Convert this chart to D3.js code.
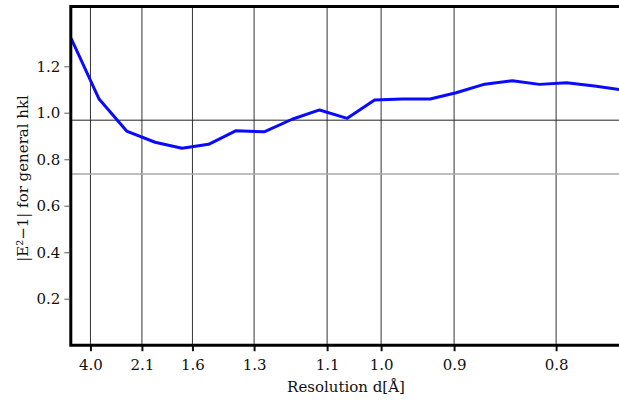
<!DOCTYPE html>
<html>
<head>
<meta charset="utf-8">
<script src="https://cdn.jsdelivr.net/npm/d3@7"></script>
<style>
  body { margin: 0; background: #fff; }
  svg text { font-family: "DejaVu Serif", serif; font-size: 15px; fill: #111; }
</style>
</head>
<body>
<div id="chart"></div>
<script>
// data
// x is 1/d^2 (the axis is linear in that), y is |E^2-1|
const invD2 = [0.0035, 0.0935, 0.182, 0.2735, 0.36, 0.4455, 0.534, 0.624, 0.714, 0.802,
  0.891, 0.979, 1.0675, 1.1575, 1.241, 1.333, 1.422, 1.509, 1.596, 1.686, 1.774];
const eValues = [1.320, 1.059, 0.921, 0.873, 0.847, 0.864, 0.923, 0.918, 0.972, 1.012,
  0.976, 1.055, 1.059, 1.059, 1.086, 1.123, 1.138, 1.122, 1.129, 1.115, 1.098];

// resolution ticks (d in Å) and what they are labelled with
const tickD = [3.9, 2.08, 1.594, 1.3, 1.1, 1.0, 0.9, 0.8];
const tickLabels = ["4.0", "2.1", "1.6", "1.3", "1.1", "1.0", "0.9", "0.8"];
const yTicks = [0.2, 0.4, 0.6, 0.8, 1.0, 1.2];

// expected values: centric / acentric
const refLines = [0.968, 0.736];
const refColors = ["#222", "#aaa"];
const refWidths = [1, 1.5];

const width = 619,
  height = 402;

const svg = d3.select("#chart")
  .append("svg")
  .attr("width", width)
  .attr("height", height);

const x = d3.scaleLinear().domain([0, 1.8]).range([70, 630]);
const y = d3.scaleLinear().domain([0, 1.457]).range([345.2, 6.5]);

const plotLeft = 70.8, plotTop = 6.5, plotBottom = 345.2;

svg.append("clipPath")
  .attr("id", "clip")
  .append("rect")
  .attr("x", plotLeft)
  .attr("y", plotTop)
  .attr("width", width - plotLeft)
  .attr("height", plotBottom - plotTop);

// vertical grid lines at the resolution ticks
svg.append("g")
  .selectAll("line")
  .data(tickD)
  .join("line")
  .attr("x1", d => x(1 / (d * d)))
  .attr("x2", d => x(1 / (d * d)))
  .attr("y1", plotTop)
  .attr("y2", plotBottom)
  .style("stroke", "#333")
  .style("stroke-width", 1);

// the two horizontal reference lines
svg.append("g")
  .selectAll("line")
  .data(refLines)
  .join("line")
  .attr("x1", plotLeft)
  .attr("x2", width)
  .attr("y1", d => y(d))
  .attr("y2", d => y(d))
  .style("stroke", (d, i) => refColors[i])
  .style("stroke-width", (d, i) => refWidths[i]);

// the curve
const line = d3.line()
  .x((d, i) => x(invD2[i]))
  .y(d => y(d));

svg.append("path")
  .datum(eValues)
  .attr("clip-path", "url(#clip)")
  .attr("d", line)
  .style("fill", "none")
  .style("stroke", "#0a0aff")
  .style("stroke-width", 3)
  .style("stroke-linejoin", "round");

// y axis
const yAxis = d3.axisLeft(y)
  .tickValues(yTicks)
  .tickFormat(d3.format(".1f"))
  .tickSize(5)
  .tickPadding(4);

const gy = svg.append("g")
  .attr("transform", `translate(${plotLeft - 1.5},0)`)
  .call(yAxis);
gy.select(".domain").remove();
gy.selectAll("line").style("stroke", "#777").style("stroke-width", 1.2);
gy.selectAll("text").style("font-family", "DejaVu Serif").style("font-size", "15px");

// x axis
const xAxis = d3.axisBottom(x)
  .tickValues(tickD.map(d => 1 / (d * d)))
  .tickFormat((d, i) => tickLabels[i])
  .tickSize(6)
  .tickPadding(8);

const gx = svg.append("g")
  .attr("transform", `translate(0,${plotBottom})`)
  .call(xAxis);
gx.select(".domain").remove();
gx.selectAll("line").style("stroke", "#111").style("stroke-width", 2);
gx.selectAll("text").style("font-family", "DejaVu Serif").style("font-size", "15px");

// frame: thick left, bottom and top borders
svg.append("path")
  .attr("d", `M${width},${plotTop}H${plotLeft}V${plotBottom}H${width}`)
  .style("fill", "none")
  .style("stroke", "#000")
  .style("stroke-width", 3);

// axis titles
svg.append("text")
  .attr("x", 346)
  .attr("y", 392)
  .attr("text-anchor", "middle")
  .text("Resolution d[Å]");

svg.append("text")
  .attr("transform", "translate(28,178.5) rotate(-90)")
  .attr("text-anchor", "middle")
  .text("|E²−1| for general hkl");
</script>
</body>
</html>
